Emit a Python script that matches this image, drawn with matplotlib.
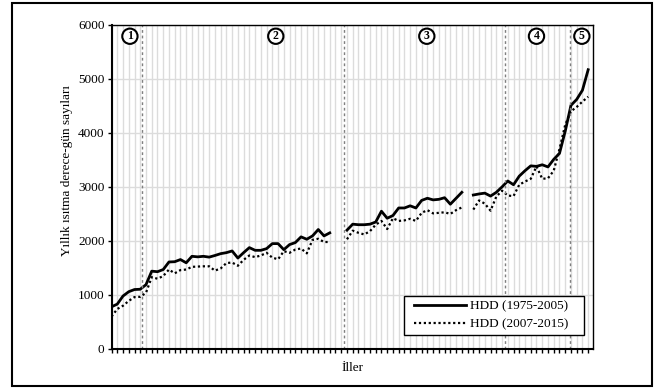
import numpy as np
import matplotlib.pyplot as plt
from matplotlib.patches import Rectangle

plt.rcParams['font.family'] = ['Liberation Serif', 'DejaVu Serif']

nan = np.nan

# annual heating degree-days per province, sorted; empty slots split the groups
hdd_1975_2005 = [
    780, 830, 980, 1060, 1100, 1105, 1190, 1440, 1430, 1470,
    1610, 1615, 1655, 1595, 1715, 1705, 1715, 1700, 1730, 1764,
    1783, 1814, 1683, 1783, 1876, 1826, 1826, 1857, 1950, 1950,
    1838, 1932, 1969, 2075, 2031, 2093, 2211, 2093, 2149,
    nan, nan,
    2200, 2310, 2300, 2300, 2310, 2350, 2550, 2420, 2470, 2610,
    2610, 2650, 2610, 2750, 2790, 2760, 2770, 2800, 2680, 2790,
    2900,
    nan,
    2850, 2870, 2885, 2830, 2900, 3000, 3110, 3040, 3200, 3300,
    3390, 3380, 3410, 3370, 3510, 3620, 4030, 4510, 4620, 4790,
    5170,
]

hdd_2007_2015 = [
    600, 740, 800, 890, 960, 965, 1040, 1330, 1300, 1350,
    1470, 1400, 1460, 1470, 1520, 1525, 1530, 1530, 1450, 1490,
    1590, 1600, 1540, 1650, 1730, 1700, 1730, 1780, 1690, 1660,
    1810, 1780, 1840, 1860, 1770, 2020, 2040, 1980, 1980,
    nan, nan,
    2030, 2190, 2150, 2120, 2180, 2300, 2370, 2220, 2420, 2370,
    2380, 2410, 2370, 2520, 2570, 2510, 2520, 2530, 2500, 2570,
    2620,
    nan,
    2580, 2750, 2690, 2560, 2820, 2930, 2840, 2830, 3040, 3100,
    3150, 3380, 3150, 3160, 3300, 3700, 4150, 4400, 4480, 4580,
    4670,
]

# climate zone separators and zone label positions
zone_bounds = [5.25, 40.5, 68.5, 79.9]
zone_labels = ['1', '2', '3', '4', '5']
zone_label_x = [3.2, 28.6, 54.9, 74.0, 81.9]

x = np.arange(len(hdd_1975_2005))

fig = plt.figure(figsize=(6.6, 3.89), dpi=100)
ax = fig.add_axes([0.169, 0.103, 0.730, 0.833])

ax.plot(x, hdd_1975_2005, color='black', lw=2.0, label='HDD (1975-2005)')
ax.plot(x, hdd_2007_2015, color='black', lw=1.6, ls=(0, (1, 1.2)), label='HDD (2007-2015)')

for b in zone_bounds:
    ax.axvline(b, color='#7f7f7f', lw=1.0, ls=(0, (2, 2)))

for lbl, xp in zip(zone_labels, zone_label_x):
    ax.text(xp, 5790, lbl, ha='center', va='center', fontsize=8.5, fontweight='bold',
            bbox=dict(boxstyle='circle,pad=0.14', fc='white', ec='black', lw=1.5))

ax.set_xlim(0, 83.9)
ax.set_ylim(0, 6000)
ax.set_yticks(range(0, 6001, 1000))
ax.set_xticks(x)
ax.set_xticklabels([])
ax.grid(True, color='#dcdcdc', lw=1.0)
ax.set_axisbelow(True)

ax.tick_params(axis='x', direction='out', length=3, width=1, color='black')
ax.tick_params(axis='y', direction='out', length=3, width=1, labelsize=9.5, pad=2)
for s in ax.spines.values():
    s.set_color('black')
    s.set_linewidth(1.0)
ax.spines['left'].set_linewidth(1.5)
ax.spines['bottom'].set_linewidth(1.5)

ax.set_ylabel('Yıllık ısıtma derece-gün sayıları', fontsize=9.5)
ax.yaxis.set_label_coords(-0.08, 0.55)
ax.set_xlabel('İller', fontsize=9.5)
ax.xaxis.set_label_coords(0.5, -0.04)

# legend box drawn separately so it can be wider than the entries
ax.add_patch(Rectangle((0.607, 0.043), 0.373, 0.121, transform=ax.transAxes,
                       fc='white', ec='black', lw=1.0, zorder=4))
leg = ax.legend(loc='center right', bbox_to_anchor=(0.948, 0.104), borderaxespad=0,
                borderpad=0, fontsize=9.5, handlelength=3.9, handletextpad=0.3,
                frameon=False, labelspacing=0.42)
leg.set_zorder(5)

fig.patches.append(Rectangle((0.018, 0.008), 0.970, 0.985, transform=fig.transFigure,
                             fill=False, ec='black', lw=1.5))

fig.savefig('out.png', dpi=100)
